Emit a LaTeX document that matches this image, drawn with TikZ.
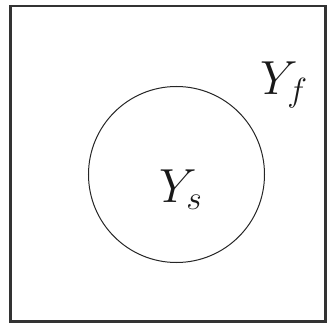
\documentclass[tikz,border=0pt]{standalone}
\usepackage{fix-cm}
\begin{document}
\begin{tikzpicture}[x=1bp,y=1bp,
  lbl/.style={anchor=base west,inner sep=0pt,font=\fontsize{48}{58}\selectfont,text=black!90}]
\useasboundingbox (0,0) rectangle (327,325);
\draw[line width=2.2bp,black!80] (10.5,3.5) rectangle (325.5,319);
\node[draw,circle,line width=1bp,black!85,minimum size=176bp,inner sep=0pt] (s) at (176.5,150.5) {};
\node[lbl] (ys) at (159,123) {$Y_s$};
\node[lbl] (yf) at (260,231) {$Y_f$};
\end{tikzpicture}
\end{document}
